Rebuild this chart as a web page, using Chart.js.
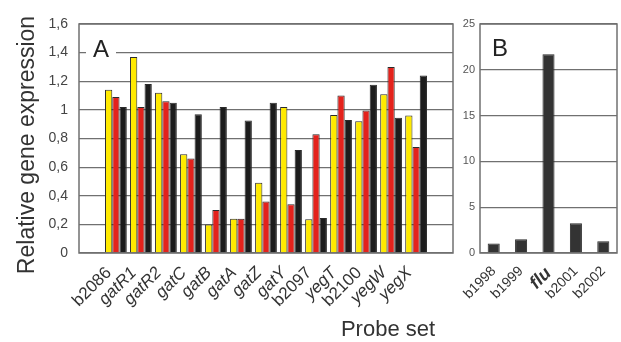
<!DOCTYPE html>
<html>
<head>
<meta charset="utf-8">
<script src="https://cdn.jsdelivr.net/npm/chart.js@4"></script>
<style>
  body { margin: 0; background: #fff; }
  #wrap { position: relative; width: 621px; height: 342px; }
  canvas { position: absolute; top: 0; }
  #chartA { left: 0; }
  #chartB { left: 462px; }
</style>
</head>
<body>
<div id="wrap">
  <canvas id="chartA" width="462" height="342"></canvas>
  <canvas id="chartB" width="159" height="342"></canvas>
</div>
<script>
// ---- panel A data ----
const probesA = ['b2086', 'gatR1', 'gatR2', 'gatC', 'gatB', 'gatA', 'gatZ', 'gatY', 'b2097', 'yegT', 'b2100', 'yegW', 'yegX'];
const yellowA = [1.14, 1.37, 1.12, 0.69, 0.20, 0.24, 0.49, 1.02, 0.235, 0.965, 0.92, 1.11, 0.96];
const redA    = [1.09, 1.02, 1.06, 0.66, 0.30, 0.24, 0.36, 0.34, 0.83, 1.10, 0.995, 1.30, 0.74];
const blackA  = [1.02, 1.18, 1.05, 0.97, 1.02, 0.925, 1.05, 0.72, 0.245, 0.93, 1.175, 0.945, 1.24];

// ---- panel B data ----
const probesB = ['b1998', 'b1999', 'flu', 'b2001', 'b2002'];
const valuesB = [1.03, 1.5, 21.7, 3.25, 1.28];

const FONT = '"Liberation Sans", Arial, Helvetica, sans-serif';
const GRID = '#707070';

function isGene(name) { return !/^b\d/.test(name); }

// box round the plot area
const framePlugin = {
  id: 'frame',
  afterDatasetsDraw(chart) {
    const a = chart.chartArea, c = chart.ctx;
    c.save();
    c.strokeStyle = GRID;
    c.lineWidth = 1.5;
    c.strokeRect(a.left, a.top, a.right - a.left, a.bottom - a.top);
    c.restore();
  }
};

function labelPlugin(letter, x, y, withBox, extra) {
  return {
    id: 'label' + letter,
    afterDraw(chart) {
      const c = chart.ctx;
      c.save();
      c.font = '24px ' + FONT;
      if (withBox) {
        c.fillStyle = '#fff';
        c.fillRect(x - 7, y - 19, 30, 22);
      }
      c.fillStyle = '#222';
      c.textBaseline = 'alphabetic';
      c.fillText(letter, x, y);
      if (extra) extra(c);
      c.restore();
    }
  };
}

function drawTitlesA(c) {
  c.fillStyle = '#333';
  c.font = '23px ' + FONT;
  c.textAlign = 'center';
  c.textBaseline = 'middle';
  c.save();
  c.translate(28, 145);
  c.rotate(-Math.PI / 2);
  c.fillText('Relative gene expression', 0, 0);
  c.restore();
  c.font = '22px ' + FONT;
  c.fillText('Probe set', 388, 330);
}

const toPoints = arr => arr.map((v, i) => ({ x: i, y: v }));

new Chart(document.getElementById('chartA'), {
  type: 'bar',
  data: {
    datasets: [
      { data: toPoints(yellowA), backgroundColor: '#ffea00' },
      { data: toPoints(redA), backgroundColor: '#e4221c' },
      { data: toPoints(blackA), backgroundColor: '#1c1c1c' }
    ]
  },
  options: {
    responsive: false,
    animation: false,
    layout: { padding: { top: 24, right: 9, left: 0, bottom: 0 } },
    datasets: { bar: { categoryPercentage: 0.87, barPercentage: 1, borderWidth: 1, borderColor: '#2a2a2a' } },
    plugins: { legend: { display: false }, tooltip: { enabled: false } },
    scales: {
      x: {
        type: 'linear',
        min: -0.9,
        max: 12.9,
        grid: { display: false },
        border: { display: false },
        afterBuildTicks: s => { s.ticks = probesA.map((p, i) => ({ value: i })); },
        afterFit: s => { s.height = 89; },
        ticks: {
          autoSkip: false,
          minRotation: 45,
          maxRotation: 45,
          padding: 2,
          labelOffset: -7,
          color: '#333',
          callback: (v, i) => probesA[i],
          font: ctx => ({ family: FONT, size: 17, style: isGene(probesA[ctx.index] || '') ? 'italic' : 'normal' })
        }
      },
      y: {
        min: 0,
        max: 1.6,
        grid: { color: GRID, lineWidth: 1.2, drawTicks: false },
        border: { display: false },
        afterFit: s => { s.width = 79; },
        ticks: {
          stepSize: 0.2,
          padding: 11,
          color: '#444',
          font: { family: FONT, size: 14 },
          callback: v => String(Math.round(v * 10) / 10).replace('.', ',')
        }
      }
    }
  },
  plugins: [framePlugin, labelPlugin('A', 93, 57, true, drawTitlesA)]
});

new Chart(document.getElementById('chartB'), {
  type: 'bar',
  data: {
    labels: probesB,
    datasets: [{ data: valuesB, backgroundColor: '#333', borderColor: '#2a2a2a', borderWidth: 1 }]
  },
  options: {
    responsive: false,
    animation: false,
    layout: { padding: { top: 24, right: 4, left: 0, bottom: 0 } },
    datasets: { bar: { categoryPercentage: 1, barPercentage: 0.44 } },
    plugins: { legend: { display: false }, tooltip: { enabled: false } },
    scales: {
      x: {
        grid: { display: false },
        border: { display: false },
        afterFit: s => { s.height = 89; },
        ticks: {
          autoSkip: false,
          minRotation: 45,
          maxRotation: 45,
          padding: 2,
          color: '#333',
          font: ctx => probesB[ctx.index] === 'flu'
            ? { family: FONT, size: 18, style: 'italic', weight: 'bold' }
            : { family: FONT, size: 14 }
        }
      },
      y: {
        min: 0,
        max: 25,
        grid: { color: GRID, lineWidth: 1.2, drawTicks: false },
        border: { display: false },
        afterFit: s => { s.width = 18; },
        ticks: {
          stepSize: 5,
          padding: 5,
          color: '#555',
          font: { family: FONT, size: 11 }
        }
      }
    }
  },
  plugins: [framePlugin, labelPlugin('B', 30, 56, false)]
});
</script>
</body>
</html>
